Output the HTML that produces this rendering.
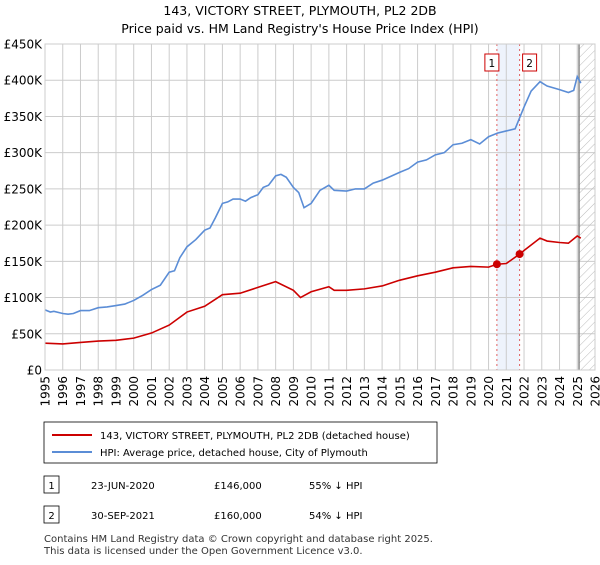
<!DOCTYPE html>
<html><head><meta charset="utf-8"><style>
body{margin:0;background:#fff;font-family:"Liberation Sans","DejaVu Sans",sans-serif;}
svg text{font-family:"DejaVu Sans","Liberation Sans",sans-serif;}
</style></head><body>
<svg id="chart" width="600" height="560" xmlns="http://www.w3.org/2000/svg">
<text x="300" y="15" text-anchor="middle" font-size="12.5">143, VICTORY STREET, PLYMOUTH, PL2 2DB</text>
<text x="300" y="33" text-anchor="middle" font-size="12.5">Price paid vs. HM Land Registry's House Price Index (HPI)</text>
<defs><pattern id="hatch" width="6" height="6" patternUnits="userSpaceOnUse" patternTransform="rotate(45)"><line x1="0" y1="0" x2="0" y2="6" stroke="#bbb" stroke-width="1"/></pattern></defs>
<g id="grid"></g>
<g id="marks"></g>
<rect x="44" y="422" width="393" height="41" fill="#fff" stroke="#000" stroke-width="0.8"/>
<line x1="52" y1="435" x2="92" y2="435" stroke="#cc0000" stroke-width="2"/>
<text x="100" y="439" font-size="10">143, VICTORY STREET, PLYMOUTH, PL2 2DB (detached house)</text>
<line x1="52" y1="452" x2="92" y2="452" stroke="#5b8dd6" stroke-width="2"/>
<text x="100" y="456" font-size="10">HPI: Average price, detached house, City of Plymouth</text>
<rect x="44" y="476" width="15" height="17" fill="#fff" stroke="#000" stroke-width="0.8"/>
<text x="51.5" y="489" font-size="10" text-anchor="middle">1</text>
<text x="91" y="489" font-size="10">23-JUN-2020</text>
<text x="214" y="489" font-size="10">£146,000</text>
<text x="309" y="489" font-size="10">55% ↓ HPI</text>
<rect x="44" y="506" width="15" height="17" fill="#fff" stroke="#000" stroke-width="0.8"/>
<text x="51.5" y="519" font-size="10" text-anchor="middle">2</text>
<text x="91" y="519" font-size="10">30-SEP-2021</text>
<text x="214" y="519" font-size="10">£160,000</text>
<text x="309" y="519" font-size="10">54% ↓ HPI</text>
<text x="44" y="542" font-size="10" fill="#333">Contains HM Land Registry data © Crown copyright and database right 2025.</text>
<text x="44" y="554" font-size="10" fill="#333">This data is licensed under the Open Government Licence v3.0.</text>
</svg>
<script>
const hpiYears=[1995,1995.3,1995.5,1996,1996.3,1996.6,1997,1997.5,1998,1998.5,1999,1999.5,2000,2000.5,2001,2001.5,2002,2002.3,2002.6,2003,2003.5,2004,2004.3,2004.6,2005,2005.3,2005.6,2006,2006.3,2006.6,2007,2007.3,2007.6,2008,2008.3,2008.6,2009,2009.3,2009.6,2010,2010.5,2011,2011.3,2012,2012.5,2013,2013.5,2014,2015,2015.5,2016,2016.5,2017,2017.5,2018,2018.5,2019,2019.5,2020,2020.5,2021,2021.5,2022,2022.4,2022.9,2023.3,2024,2024.5,2024.8,2025,2025.2];
const hpiValues=[83,80,81,78,77,78,82,82,86,87,89,91,96,103,111,117,135,137,155,170,180,193,196,210,230,232,236,236,233,238,242,252,255,268,270,266,252,245,224,230,248,255,248,247,250,250,258,262,273,278,287,290,297,300,311,313,318,312,322,327,330,333,363,385,398,392,387,383,386,405,396];
const ppYears=[1995,1996,1997,1998,1999,2000,2001,2002,2003,2004,2005,2006,2007,2008,2009,2009.4,2010,2011,2011.3,2012,2013,2014,2015,2016,2017,2018,2019,2020,2020.47,2021,2021.75,2022,2022.9,2023.3,2024,2024.5,2025,2025.2];
const ppValues=[37,36,38,40,41,44,51,62,80,88,104,106,114,122,110,100,108,115,110,110,112,116,124,130,135,141,143,142,146,147,160,165,182,178,176,175,185,182];
const saleYears=[2020.47,2021.75];
const saleValues=[146,160];
const saleLabels=["1","2"];
const yTicks=[0,50,100,150,200,250,300,350,400,450];
const yTickLabels=["£0","£50K","£100K","£150K","£200K","£250K","£300K","£350K","£400K","£450K"];
const xTicks=[1995,1996,1997,1998,1999,2000,2001,2002,2003,2004,2005,2006,2007,2008,2009,2010,2011,2012,2013,2014,2015,2016,2017,2018,2019,2020,2021,2022,2023,2024,2025,2026];
const dataEnd=2025.1;
const L=45,R=595,T=44,B=370;
const x=y=>L+(y-1995)*(R-L)/31;
const yv=v=>B-v*(B-T)/450;
const NS="http://www.w3.org/2000/svg";
const grid=document.getElementById('grid'),marks=document.getElementById('marks');
function mk(tag,attrs,parent){const e=document.createElementNS(NS,tag);for(const k in attrs)e.setAttribute(k,attrs[k]);parent.appendChild(e);return e;}
const band=mk('rect',{x:x(saleYears[0]),y:T,width:x(saleYears[1])-x(saleYears[0]),height:B-T,fill:'#eef3fc'},grid);


yTicks.forEach((t,i)=>{
 mk('line',{x1:L,x2:R,y1:yv(t),y2:yv(t),stroke:'#cccccc','stroke-width':1},grid);
 const tx=mk('text',{x:L-3,y:yv(t)+4.5,'text-anchor':'end','font-size':12},grid);
 tx.textContent=yTickLabels[i];
 
 
});
xTicks.forEach(t=>{
 mk('line',{x1:x(t),x2:x(t),y1:T,y2:B,stroke:'#cccccc','stroke-width':1},grid);
 const tx=mk('text',{x:0,y:0,'font-size':12,'text-anchor':'end',transform:`translate(${x(t)+4.5},${B+6}) rotate(-90)`},grid);
 tx.textContent=t;
 
 
});
const hatch=mk('rect',{x:x(dataEnd),y:T,width:R-x(dataEnd),height:B-T,fill:'url(#hatch)'},grid);


mk('line',{x1:x(dataEnd),x2:x(dataEnd),y1:T,y2:B,stroke:'#888','stroke-width':1.5},grid);
saleYears.forEach((s,i)=>{
 mk('line',{x1:x(s),x2:x(s),y1:T,y2:B,stroke:'#e06060','stroke-width':1,'stroke-dasharray':'2,3'},grid);
});
const hp=mk('polyline',{points:hpiYears.map((yr,i)=>x(yr)+','+yv(hpiValues[i])).join(' '),fill:'none',stroke:'#5b8dd6','stroke-width':1.6},marks);


const pp=mk('polyline',{points:ppYears.map((yr,i)=>x(yr)+','+yv(ppValues[i])).join(' '),fill:'none',stroke:'#cc0000','stroke-width':1.6},marks);


saleYears.forEach((s,i)=>{
 const c=mk('circle',{cx:x(s),cy:yv(saleValues[i]),r:4,fill:'#cc0000'},marks);
 
 
 const bx=mk('rect',{x:x(s)+(i==0?-12:3),y:54,width:14,height:17,fill:'#fff',stroke:'#cc0000','stroke-width':1},marks);
 
 
 const t=mk('text',{x:x(s)+(i==0?-5:10),y:67,'font-size':10.5,'text-anchor':'middle'},marks);
 t.textContent=saleLabels[i];
});
mk('rect',{x:L,y:T,width:R-L,height:B-T,fill:'none',stroke:'#cccccc','stroke-width':1},marks);
</script>
</body></html>
